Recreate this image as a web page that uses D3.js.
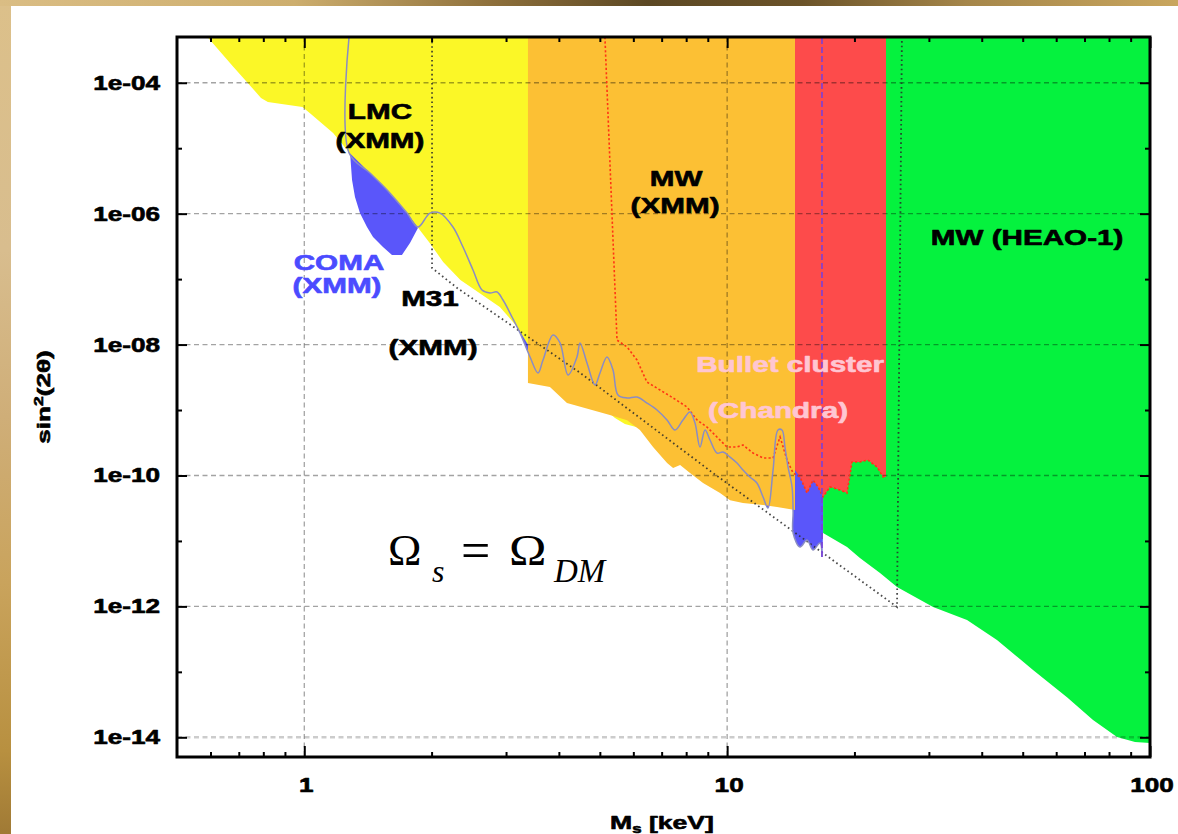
<!DOCTYPE html>
<html>
<head>
<meta charset="utf-8">
<script src="https://cdn.jsdelivr.net/npm/d3@7"></script>
<style>
  html, body { margin: 0; padding: 0; background: #fff; }
  svg { display: block; }
</style>
</head>
<body>
<svg id="chart" width="1178" height="834"></svg>
<script>
// Sterile neutrino parameter space: mass M_s (keV) vs mixing sin^2(2θ),
// with the X-ray exclusion regions from several observations.

const massDomain = [0.5, 100];
const mixDomain = [5e-15, 5e-4];

const xTickValues = [1, 10, 100];
const xTickLabels = ["1", "10", "100"];
const xMinorTicks = [0.6, 0.7, 0.8, 0.9, 2, 3, 4, 5, 6, 7, 8, 9, 20, 30, 40, 50, 60, 70, 80, 90];
const yTickValues = [1e-4, 1e-6, 1e-8, 1e-10, 1e-12, 1e-14];
const yTickLabels = ["1e-04", "1e-06", "1e-08", "1e-10", "1e-12", "1e-14"];
const yMinorTicks = [1e-5, 1e-7, 1e-9, 1e-11, 1e-13];

// Lower edges of the excluded regions, [mass keV, sin^2 2θ]; each region extends up to the top.
const lmcEdge = [
  [0.59, 5e-4], [0.68, 1.74e-4], [0.79, 5.85e-5], [0.82, 5.08e-5], [0.99, 4.26e-5],
  [1.03, 3.45e-5], [1.17, 1.71e-5], [1.28, 8.45e-6], [1.43, 4.18e-6], [1.57, 2.30e-6],
  [1.75, 1.02e-6], [1.86, 6.04e-7], [1.98, 3.56e-7], [2.13, 1.83e-7], [2.34, 9.7e-8],
  [2.60, 6.1e-8], [2.90, 3.75e-8], [3.19, 1.86e-8], [3.36, 1.06e-8], [4.0, 2.9e-9],
  [5.0, 1.19e-9], [5.43, 7.55e-10], [5.73, 6.11e-10], [6.22, 5.31e-10], [6.94, 3.48e-10]
];
const mwXmmEdge = [
  [3.38, 2.59e-9], [3.81, 2.25e-9], [4.18, 1.28e-9], [5.28, 8.4e-10], [5.80, 7.0e-10],
  [6.22, 4.95e-10], [6.68, 2.72e-10], [7.21, 1.55e-10], [7.45, 1.30e-10], [7.74, 1.45e-10],
  [8.17, 1.09e-10], [8.77, 7.7e-11], [9.62, 5.4e-11], [10.16, 4.2e-11], [10.9, 3.8e-11],
  [12.16, 3.54e-11], [13.12, 3.3e-11], [14.47, 2.97e-11]
];
const bulletEdge = [
  [14.47, 1.21e-10], [14.87, 9.5e-11], [15.45, 5.4e-11], [15.96, 8.5e-11], [16.40, 6.7e-11],
  [16.86, 4.7e-11], [17.51, 6.7e-11], [18.49, 6.0e-11], [19.21, 5.4e-11], [19.74, 1.61e-10],
  [20.61, 1.61e-10], [21.53, 1.72e-10], [22.61, 1.35e-10], [23.37, 9.5e-11], [23.75, 9.5e-11]
];
const heaoEdge = [
  [16.86, 1.32e-11], [19.21, 8.1e-12], [20.61, 5.5e-12], [22.99, 3.24e-12], [25.22, 1.98e-12],
  [30.69, 9.8e-13], [36.92, 6.2e-13], [43.46, 3.06e-13], [52.89, 1.07e-13], [63.64, 4.1e-14],
  [73.33, 1.84e-14], [83.56, 1.01e-14], [92.17, 8.5e-15], [100, 8.2e-15]
];
// Closed outline of the Coma cluster region
const comaOutline = [
  [1.283, 8.45e-6], [1.297, 3.27e-6], [1.318, 1.80e-6], [1.354, 1.02e-6], [1.407, 6.25e-7],
  [1.454, 4.40e-7], [1.535, 3.09e-7], [1.612, 2.34e-7], [1.702, 2.34e-7], [1.778, 3.56e-7],
  [1.857, 6.04e-7], [1.749, 1.02e-6], [1.569, 2.30e-6], [1.430, 4.18e-6]
];
// M31 limit: left wall, measured curve, right wall
const m31Curve = [
  [1.276, 5e-4], [1.276, 8.45e-6], [1.43, 4.18e-6], [1.57, 2.30e-6], [1.75, 1.02e-6],
  [1.857, 6.25e-7], [1.983, 1.02e-6], [2.094, 1.02e-6], [2.247, 6.25e-7], [2.373, 3.09e-7],
  [2.506, 1.38e-7], [2.632, 6.82e-8], [2.749, 6.14e-8], [2.856, 6.35e-8], [2.951, 4.80e-8],
  [3.099, 2.64e-8], [3.237, 1.50e-8], [3.419, 6.46e-9], [3.570, 3.68e-9], [3.669, 5.81e-9],
  [3.875, 1.40e-8], [4.025, 1.06e-8], [4.204, 3.43e-9], [4.415, 6.46e-9], [4.488, 1.06e-8],
  [4.662, 5.23e-9], [4.870, 2.41e-9], [5.004, 3.68e-9], [5.198, 6.46e-9], [5.371, 4.09e-9],
  [5.519, 1.70e-9], [5.796, 1.53e-9], [6.121, 1.58e-9], [6.464, 1.28e-9], [6.825, 1.00e-9],
  [7.207, 7.04e-10], [7.529, 4.95e-10], [7.863, 7.04e-10], [8.168, 9.33e-10], [8.394, 6.33e-10],
  [8.627, 2.72e-10], [8.865, 4.95e-10], [9.110, 3.48e-10], [9.464, 2.20e-10], [9.777, 2.28e-10],
  [10.16, 1.91e-10], [10.55, 1.55e-10], [10.90, 1.21e-10], [11.32, 9.48e-11], [11.76, 7.67e-11],
  [12.16, 4.69e-11], [12.49, 3.18e-11], [12.84, 1.21e-10], [13.19, 4.95e-10], [13.48, 4.95e-10],
  [13.70, 2.72e-10], [13.93, 1.35e-10], [14.24, 6.67e-11], [14.32, 2.77e-11], [14.32, 1.32e-11],
  [14.87, 8.08e-12], [15.45, 1.03e-11], [15.96, 7.27e-12], [16.58, 9.30e-12], [16.76, 5.68e-12],
  [16.76, 5e-4]
];
// Dodelson–Widrow production line (Ω_s = Ω_DM) with its mass walls
const dwLine = [
  [2.005, 5e-4], [2.005, 1.48e-7], [2.30, 7.3e-8], [4.49, 3.7e-9], [9.26, 1.09e-10],
  [25.22, 9.8e-13], [25.9, 5e-4]
];
// Milky Way (XMM) limit curve
const mwXmmCurve = [
  [5.14, 5e-4], [5.49, 1.17e-8], [5.80, 9.18e-9], [6.12, 5.81e-9], [6.46, 2.68e-9],
  [6.94, 2.02e-9], [7.45, 1.53e-9], [8.04, 1.11e-9], [8.49, 7.04e-10], [8.96, 5.50e-10],
  [9.46, 3.87e-10], [9.99, 2.72e-10], [10.55, 2.72e-10], [10.90, 2.92e-10], [11.51, 2.20e-10],
  [12.16, 1.85e-10], [12.84, 1.85e-10], [13.19, 3.13e-10], [13.34, 3.87e-10], [13.86, 1.72e-10],
  [14.32, 1.09e-10], [14.87, 9.5e-11], [15.45, 5.4e-11], [15.96, 8.5e-11], [16.40, 6.7e-11],
  [16.86, 4.7e-11], [17.51, 6.7e-11], [18.49, 6.0e-11], [19.21, 5.4e-11], [19.74, 1.61e-10],
  [20.61, 1.61e-10], [21.53, 1.72e-10], [22.61, 1.35e-10], [23.37, 9.5e-11], [23.75, 9.5e-11]
];

// Region captions, anchored at [mass keV, sin^2 2θ]
const regionLabels = [
  { text: "LMC", m: 1.51, s: 2.79e-5, color: "#000" },
  { text: "(XMM)", m: 1.51, s: 1.0e-5, color: "#000" },
  { text: "COMA", m: 1.208, s: 1.38e-7, color: "#4b4bff" },
  { text: "(XMM)", m: 1.195, s: 6.14e-8, color: "#4b4bff" },
  { text: "M31", m: 1.983, s: 3.88e-8, color: "#000" },
  { text: "(XMM)", m: 2.016, s: 6.93e-9, color: "#000" },
  { text: "MW", m: 7.57, s: 2.65e-6, color: "#000" },
  { text: "(XMM)", m: 7.53, s: 1.02e-6, color: "#000" },
  { text: "MW (HEAO-1)", m: 51.2, s: 3.32e-7, color: "#000" },
  { text: "Bullet cluster", m: 14.09, s: 3.81e-9, color: "#ffc6d2" },
  { text: "(Chandra)", m: 13.19, s: 7.55e-10, color: "#ffc6d2" }
];

const W = 1178, H = 834;
const margin = { left: 177, top: 37, right: 28, bottom: 77 };
const plotW = W - margin.left - margin.right;
const plotH = H - margin.top - margin.bottom;
const SANS = "'Liberation Sans', Arial, Helvetica, sans-serif";
const SERIF = "'Liberation Serif', 'Times New Roman', serif";

const svg = d3.select("#chart");
const defs = svg.append("defs");

// Gold slide backdrop peeking out at the top and left edges
const goldTop = defs.append("linearGradient").attr("id", "goldTop")
  .attr("x1", 0).attr("x2", 1).attr("y1", 0).attr("y2", 0);
[[0, "#dabd84"], [0.25, "#cdae6e"], [0.42, "#8d6f3b"], [0.55, "#5c4824"],
 [0.68, "#6b5329"], [0.82, "#a5864a"], [1, "#c9a65e"]]
  .forEach(([o, c]) => goldTop.append("stop").attr("offset", o).attr("stop-color", c));
const goldLeft = defs.append("linearGradient").attr("id", "goldLeft")
  .attr("x1", 0).attr("x2", 0).attr("y1", 0).attr("y2", 1);
[[0, "#dcc08a"], [0.3, "#d8bd8e"], [0.5, "#cfae78"], [0.7, "#c9a35c"],
 [0.9, "#b89040"], [1, "#a07a35"]]
  .forEach(([o, c]) => goldLeft.append("stop").attr("offset", o).attr("stop-color", c));

svg.append("rect").attr("width", W).attr("height", H).attr("fill", "url(#goldLeft)");
svg.append("rect").attr("width", W).attr("height", 6).attr("fill", "url(#goldTop)");
svg.append("rect").attr("x", 11).attr("y", 6).attr("width", W - 11).attr("height", H - 6).attr("fill", "#fff");

const x = d3.scaleLog().domain(massDomain).range([margin.left, margin.left + plotW]);
const y = d3.scaleLog().domain(mixDomain).range([margin.top + plotH, margin.top]);
const mixTop = mixDomain[1];

defs.append("clipPath").attr("id", "plotClip").append("rect")
  .attr("x", margin.left).attr("y", margin.top).attr("width", plotW).attr("height", plotH);

const plot = svg.append("g").attr("clip-path", "url(#plotClip)");

const line = d3.line().x(d => x(d[0])).y(d => y(d[1]));
const smooth = d3.line().x(d => x(d[0])).y(d => y(d[1])).curve(d3.curveCatmullRom.alpha(0.5));

function regionPath(edge) {
  const pts = [[edge[0][0], mixTop], ...edge, [edge[edge.length - 1][0], mixTop]];
  return line(pts) + "Z";
}

const BLUE = "#5a56fa";
// M31 region (above the measured curve)
plot.append("path").attr("d", smooth(m31Curve) + "Z").attr("fill", BLUE);
plot.append("path").attr("d", line(comaOutline) + "Z").attr("fill", BLUE);
plot.append("path").attr("d", regionPath(lmcEdge)).attr("fill", "#fbf727");
plot.append("path").attr("d", regionPath(mwXmmEdge)).attr("fill", "#fcc034");
plot.append("path").attr("d", regionPath(heaoEdge)).attr("fill", "#05f23e");
plot.append("path").attr("d", regionPath(bulletEdge)).attr("fill", "#fd4b4b");

// Dashed grid
const grid = plot.append("g");
grid.selectAll(".hg").data(yTickValues).join("line")
  .attr("x1", margin.left).attr("x2", margin.left + plotW)
  .attr("y1", d => y(d)).attr("y2", d => y(d))
  .attr("stroke", "#000")
  .attr("stroke-opacity", (d, i) => i === yTickValues.length - 1 ? 0.2 : 0.36)
  .attr("stroke-width", (d, i) => i === yTickValues.length - 1 ? 2.6 : 1.3)
  .attr("stroke-dasharray", "5,3.5");
grid.selectAll(".vg").data(xTickValues.slice(0, 2)).join("line")
  .attr("x1", d => x(d)).attr("x2", d => x(d))
  .attr("y1", margin.top).attr("y2", margin.top + plotH)
  .attr("stroke", "#000").attr("stroke-opacity", 0.36)
  .attr("stroke-width", 1.3).attr("stroke-dasharray", "5,3.5");

// Limit curves
plot.append("path").attr("d", line(dwLine)).attr("fill", "none")
  .attr("stroke", "#2a2a2a").attr("stroke-opacity", 0.85).attr("stroke-width", 1.8)
  .attr("stroke-dasharray", "1.6,3");
plot.append("path").attr("d", line(mwXmmCurve)).attr("fill", "none")
  .attr("stroke", "#ff3414").attr("stroke-width", 1.6).attr("stroke-dasharray", "2.2,2.2");
plot.append("path").attr("d", smooth(m31Curve.slice(0, -1))).attr("fill", "none")
  .attr("stroke", "#8a8cc4").attr("stroke-width", 1.5);
plot.append("path").attr("d", line(m31Curve.slice(-2))).attr("fill", "none")
  .attr("stroke", "#7a40d8").attr("stroke-width", 1.6).attr("stroke-dasharray", "6,3");

// Stretched bold captions
function caption(px, py, str, opts) {
  const fill = opts.fill || "#000";
  return svg.append("text")
    .attr("transform", `translate(${px},${py}) ${opts.rotate ? "rotate(-90) " : ""}scale(${opts.sx},1)`)
    .attr("text-anchor", opts.anchor || "middle")
    .attr("font-family", SANS).attr("font-weight", "bold")
    .attr("font-size", opts.size).attr("fill", fill)
    .attr("stroke", fill).attr("stroke-width", 0.6).attr("stroke-linejoin", "round")
    .text(str);
}

regionLabels.forEach(d => caption(x(d.m), y(d.s), d.text, { sx: 1.38, size: 21.5, fill: d.color }));

// Frame and ticks
const axes = svg.append("g");
function tickAxis(axis, tx, ty, values, size) {
  const g = axes.append("g").attr("transform", `translate(${tx},${ty})`)
    .call(axis.tickValues(values).tickSize(-size).tickFormat(""));
  g.select(".domain").remove();
  g.selectAll(".tick line").attr("stroke", "#000").attr("stroke-width", 2);
}
const bottomY = margin.top + plotH, rightX = margin.left + plotW;
tickAxis(d3.axisLeft(y), margin.left, 0, yTickValues, 10);
tickAxis(d3.axisLeft(y), margin.left, 0, yMinorTicks, 5);
tickAxis(d3.axisRight(y), rightX, 0, yTickValues, 10);
tickAxis(d3.axisRight(y), rightX, 0, yMinorTicks, 5);
tickAxis(d3.axisBottom(x), 0, bottomY, xTickValues, 11);
tickAxis(d3.axisBottom(x), 0, bottomY, xMinorTicks, 5);
tickAxis(d3.axisTop(x), 0, margin.top, xTickValues, 11);
tickAxis(d3.axisTop(x), 0, margin.top, xMinorTicks, 5);

axes.append("rect").attr("x", margin.left).attr("y", margin.top)
  .attr("width", plotW).attr("height", plotH)
  .attr("fill", "none").attr("stroke", "#000").attr("stroke-width", 3);

yTickValues.forEach((v, i) =>
  caption(margin.left - 17, y(v) + 7, yTickLabels[i], { sx: 1.34, size: 19.5, anchor: "end" }));
xTickValues.forEach((v, i) =>
  caption(x(v) + 2, bottomY + 35, xTickLabels[i], { sx: 1.34, size: 19.5 }));

// Axis titles
const xTitle = caption(662, 829, "M", { sx: 1.4, size: 19 });
xTitle.append("tspan").attr("font-size", 12).attr("dy", 4).text("s");
xTitle.append("tspan").attr("dy", -4).text(" [keV]");

const yTitle = caption(50, 397, "sin", { sx: 1.45, size: 18, rotate: true });
yTitle.append("tspan").attr("font-size", 12).attr("dy", -7).text("2");
yTitle.append("tspan").attr("dy", 7).text("(2θ)");

// Relic-density annotation
const formula = svg.append("g").attr("font-family", SERIF).attr("fill", "#000");
formula.append("text").attr("x", 388).attr("y", 565).attr("font-size", 45).text("Ω");
formula.append("text").attr("x", 432).attr("y", 582).attr("font-size", 32).attr("font-style", "italic").text("s");
formula.append("text").attr("x", 461).attr("y", 568).attr("font-size", 52).text("=");
formula.append("text").attr("transform", "translate(509,565) scale(1.12,1)").attr("font-size", 45).text("Ω");
formula.append("text").attr("x", 554).attr("y", 582).attr("font-size", 33).attr("font-style", "italic").text("DM");
</script>
</body>
</html>
